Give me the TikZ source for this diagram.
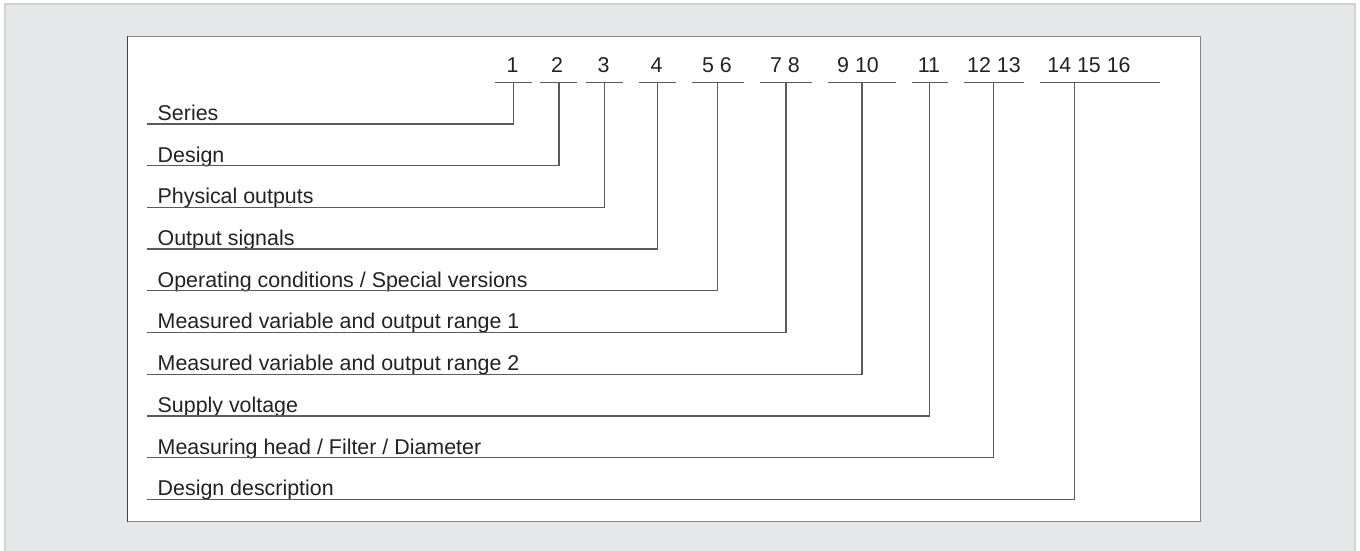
\documentclass[tikz,border=0pt]{standalone}
\usepackage{fontspec}
\setmainfont{Liberation Sans}
\usetikzlibrary{calc}
\definecolor{panelgray}{HTML}{E6E7E8}
\definecolor{paneledge}{HTML}{D2D3D4}
\definecolor{boxedge}{HTML}{858585}
\definecolor{leadgray}{HTML}{5A5A5A}
\definecolor{txtgray}{HTML}{222222}
\tikzset{
  lbl/.style={anchor=base west, inner sep=0pt, text=txtgray, font=\fontsize{21.4}{25}\selectfont},
  num/.style={anchor=base, inner sep=0pt, text=txtgray, font=\fontsize{21.4}{25}\selectfont},
  lead/.style={line width=1.3pt, draw=leadgray},
}

\begin{document}
\begin{tikzpicture}[x=1pt, y=-1pt]
			%%%%% FRAME %%%%%
			\useasboundingbox (0, 0) rectangle (1360, 551);
			\fill[white] (0, 0) rectangle (1360, 551);
			\draw[fill=panelgray, draw=paneledge, line width=2pt] (5, 4) rectangle (1355, 560);
			\draw[fill=white, draw=boxedge, line width=1.6pt] (127.5, 36.5) rectangle (1200.5, 521.5);
			\draw[line width=1.6pt, draw=black!75] (127.5, 36.5) -- (127.5, 521.5);
			
			%%%%% CODE POSITIONS %%%%%
			\foreach \n/\x/\a/\b/\cx/\txt in {
			    1/513.3/495/532/512.5/1,
			    2/559/540/577/557/2,
			    3/604.7/586/623/603.5/3,
			    4/657.3/639/676/656.5/4,
			    5/717.7/692/744/717/5 6,
			    6/786/760/812/785/7 8,
			    7/862/828/896/858/9 10,
			    8/929.7/912/948/929/11,
			    9/993.3/964/1024/994/12 13,
			    10/1074.7/1040/1160/1089/14 15 16}{
			  \node[num] (c\n) at (\cx, 72.3) {\txt};
			  \coordinate (a\n) at (\a, 82.7);
			  \coordinate (b\n) at (\b, 82.7);
			  \coordinate (t\n) at (\x, 82.7);
			  \draw[lead] (a\n) -- (b\n);
			}
			
			%%%%% LABELS %%%%%
			\foreach \n/\txt in {
			    1/{Series},
			    2/{Design},
			    3/{Physical outputs},
			    4/{Output signals},
			    5/{Operating conditions / Special versions},
			    6/{Measured variable and output range 1},
			    7/{Measured variable and output range 2},
			    8/{Supply voltage},
			    9/{Measuring head / Filter / Diameter},
			    10/{Design description}}{
			  \coordinate (s\n) at (147, {124 + 41.7*(\n-1)});
			  \node[lbl] (l\n) at ($(s\n) + (10.5, -3.6)$) {\txt};
			  \draw[lead] (s\n) -| (t\n);
			}
			
		\end{tikzpicture}
\end{document}
